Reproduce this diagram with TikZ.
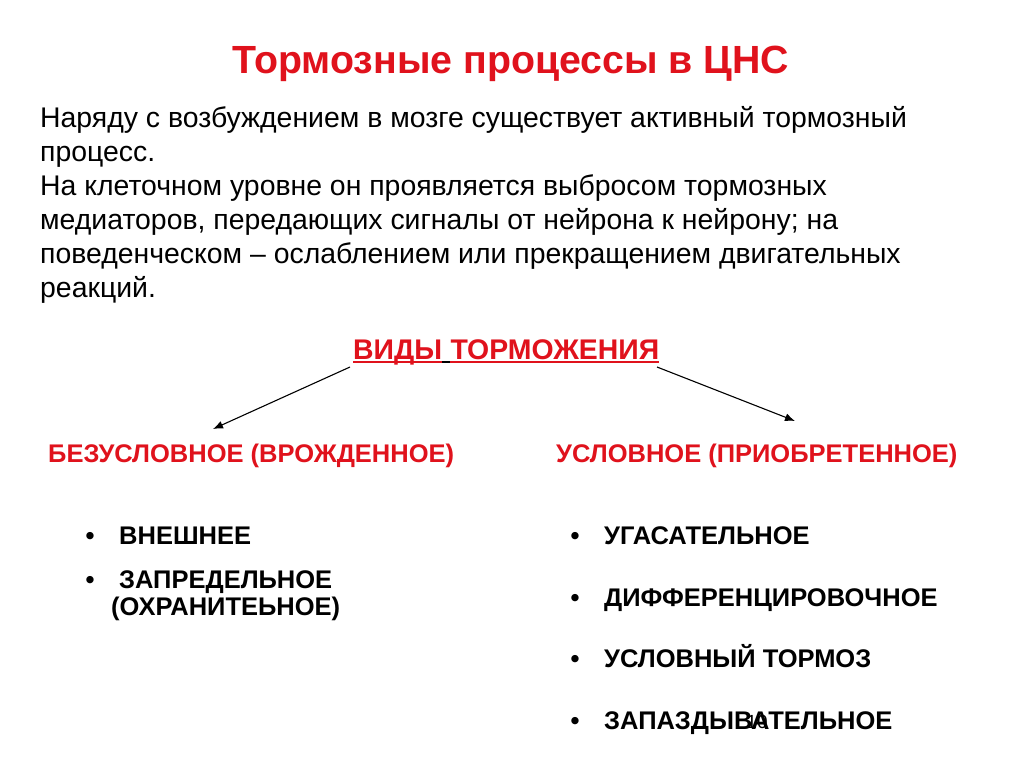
\documentclass[tikz,border=0pt]{standalone}
\usepackage{fontspec}
\setmainfont{Liberation Sans}
\usetikzlibrary{arrows.meta,positioning}
\definecolor{slidered}{RGB}{224,18,28}
\tikzset{
    heading/.style={anchor=base west,inner sep=0pt,text=slidered,font=\fontsize{25.5}{30}\selectfont\bfseries},
    item/.style={anchor=base west,inner sep=0pt,font=\fontsize{25.5}{30}\selectfont\bfseries},
    dot/.style={anchor=base,inner sep=0pt,font=\fontsize{25.5}{30}\selectfont\bfseries},
    edge/.style={-{Latex[length=10pt,width=8pt]},line width=1.1pt}
}
\begin{document}
\begin{tikzpicture}[x=1pt,y=-1pt]
\useasboundingbox[fill=white] (0,0) rectangle (1024,768);

\node[anchor=base,inner sep=0pt,text=slidered,font=\fontsize{39.3}{46}\selectfont\bfseries] (title) at (511,73) {Тормозные процессы в ЦНС};

\node[anchor=north west,inner sep=0pt,align=left,font=\fontsize{28.4}{34}\selectfont] (intro) at (40,106)
{Наряду с возбуждением в мозге существует активный тормозный\\
процесс.\\
На клеточном уровне  он проявляется выбросом тормозных\\
медиаторов, передающих сигналы от нейрона к нейрону; на\\
поведенческом – ослаблением или прекращением двигательных\\
реакций.};

% kinds of inhibition
\node[heading,font=\fontsize{28.4}{34}\selectfont\bfseries] (kinds1) at (353,359) {ВИДЫ};
\node[heading,font=\fontsize{28.4}{34}\selectfont\bfseries,right=8pt of kinds1.base east,anchor=base west] (kinds2) {ТОРМОЖЕНИЯ};
\draw[slidered,line width=1.8pt] ([yshift=-3pt]kinds1.base west) -- ([yshift=-3pt]kinds1.base east);
\draw[line width=1.8pt] ([yshift=-3pt]kinds1.base east) -- ([yshift=-3pt]kinds2.base west);
\draw[slidered,line width=1.8pt] ([yshift=-3pt]kinds2.base west) -- ([yshift=-3pt]kinds2.base east);

\node[heading] (uncond) at (48,462) {БЕЗУСЛОВНОЕ (ВРОЖДЕННОЕ)};
\node[heading] (cond) at (556,462) {УСЛОВНОЕ (ПРИОБРЕТЕННОЕ)};

\coordinate (from1) at (350,367);
\coordinate (to1) at (213,429);
\coordinate (from2) at (657,367);
\coordinate (to2) at (795,421);
\draw[edge] (from1) -- (to1);
\draw[edge] (from2) -- (to2);

% left list
\node[dot] (d1) at (90,544) {•};
\node[item] (ext) at (119,544) {ВНЕШНЕЕ};
\node[dot] (d2) at (90,588) {•};
\node[item] (beyond) at (119,588) {ЗАПРЕДЕЛЬНОЕ};
\node[item] (beyond2) at (111,615) {(ОХРАНИТЕЬНОЕ)};

% right list
\foreach \y/\name/\txt in {544/fade/УГАСАТЕЛЬНОЕ,606/diff/ДИФФЕРЕНЦИРОВОЧНОЕ,667/condbrake/УСЛОВНЫЙ ТОРМОЗ,729/delay/ЗАПАЗДЫВАТЕЛЬНОЕ}{
  \node[dot] (d\name) at (575,\y) {•};
  \node[item] (\name) at (604,\y) {\txt};
}

\node[anchor=base,inner sep=0pt,font=\fontsize{19}{22}\selectfont] (num) at (757,728) {10};

\end{tikzpicture}
\end{document}
